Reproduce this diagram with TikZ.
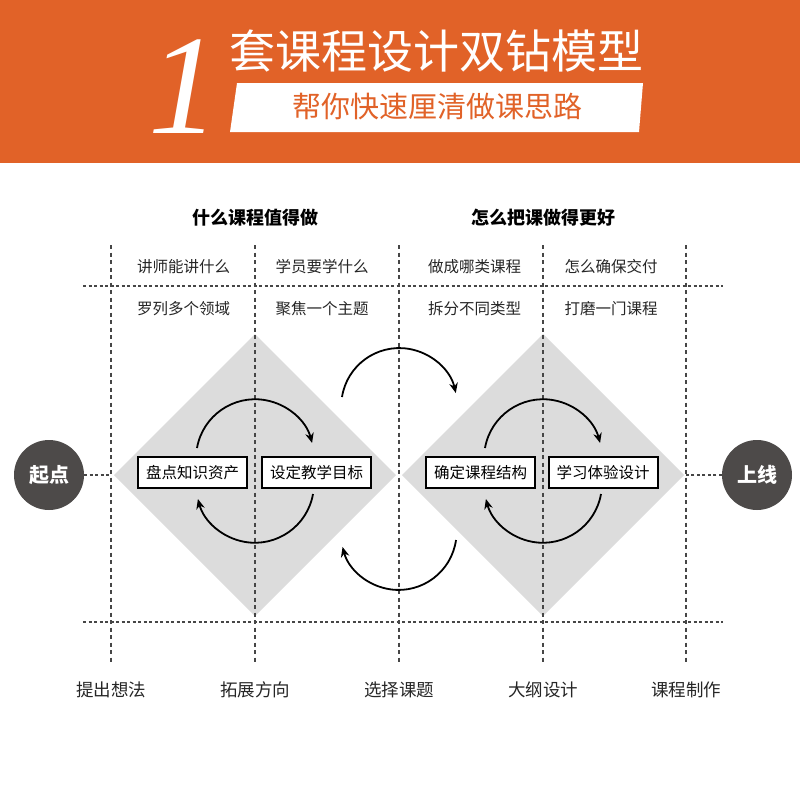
\documentclass[tikz,border=0pt]{standalone}
\usepackage{fontspec}
\setmainfont{Noto Sans CJK SC}
\newfontfamily\numfont{Liberation Serif}
\usetikzlibrary{arrows.meta, positioning, calc}
\definecolor{headorange}{RGB}{225, 98, 40}
\definecolor{diagray}{RGB}{220, 220, 220}
\definecolor{dotgray}{RGB}{70, 70, 70}
\definecolor{pointgray}{RGB}{77, 74, 73}

\begin{document}
\begin{tikzpicture}[x=1pt, y=-1pt,
  vline/.style={dotgray, line width=1.1pt, dash pattern=on 4pt off 3.5pt},
  hline/.style={dotgray, line width=1.1pt, dash pattern=on 3pt off 2.5pt},
  stepbox/.style={draw, line width=2pt, fill=white, minimum width=109pt, minimum height=31pt, inner sep=0pt, font=\fontsize{15.5}{16}\selectfont},
  cell/.style={font=\fontsize{15.5}{16}\selectfont, text=black!85},
  phase/.style={font=\fontsize{17.5}{18}\selectfont, text=black!85},
  colhead/.style={font=\fontsize{18}{19}\selectfont\bfseries},
  endpoint/.style={circle, fill=pointgray, minimum size=70pt, inner sep=0pt, text=white, font=\fontsize{20}{20}\selectfont\bfseries},
  cyc/.style={-{Stealth[length=10pt, width=8.5pt]}, line width=1.8pt}
]
  \useasboundingbox (0,0) rectangle (800,800);
  \fill[white] (0,0) rectangle (800,800);

  % header band
  \fill[headorange] (0,0) rectangle (800,163);
  \node[text=white, anchor=base, inner sep=0pt, font=\numfont\itshape\fontsize{142}{142}\selectfont] (one) at (184,133) {1};
  \node[text=white, font=\fontsize{46}{46}\selectfont] (title) at (436.5,51) {套课程设计双钻模型};
  \fill[white] (237,83) -- (643,83) -- (639,132) -- (230,132) -- cycle;
  \node[text=headorange, font=\fontsize{29}{29}\selectfont] (subtitle) at (437,107) {帮你快速厘清做课思路};

  % two diamonds
  \fill[diagray] (114,475) -- (255,334) -- (396,475) -- (255,616) -- cycle;
  \fill[diagray] (402,475) -- (543,334) -- (684,475) -- (543,616) -- cycle;

  % grid
  \foreach \x in {111,255,399,543,686}
    \draw[vline] (\x,245) -- (\x,663);
  \draw[hline] (83,286) -- (723,286);
  \draw[hline] (83,622) -- (723,622);

  \node[colhead] (worth) at (255,218) {什么课程值得做};
  \node[colhead] (better) at (543,218) {怎么把课做得更好};

  \node[cell] (teach) at (183.5,267) {讲师能讲什么};
  \node[cell] (learn) at (322,267) {学员要学什么};
  \node[cell] (kind) at (474.5,267) {做成哪类课程};
  \node[cell] (deliver) at (611,267) {怎么确保交付};
  \node[cell] (list) at (183.5,309) {罗列多个领域};
  \node[cell] (focus) at (322,309) {聚焦一个主题};
  \node[cell] (split) at (474.5,309) {拆分不同类型};
  \node[cell] (polish) at (611,309) {打磨一门课程};

  % start and end
  \node[endpoint] (begin) at (49,475) {起点};
  \node[endpoint] (online) at (757,475) {上线};
  \coordinate (lmeet) at (111,475);
  \coordinate (rmeet) at (686,475);
  \draw[hline] (begin) -- (lmeet);
  \draw[hline] (online) -- (rmeet);

  \node[stepbox] (assets) at (192.5,472.5) {盘点知识资产};
  \node[stepbox] (goal) at (316.5,472.5) {设定教学目标};
  \node[stepbox] (struct) at (480.5,472.5) {确定课程结构};
  \node[stepbox] (design) at (603,472.5) {学习体验设计};

  \draw[cyc] ([xshift=4.5pt, yshift=8pt]assets.north) arc[start angle=170, end angle=15, radius=59pt];
  \draw[cyc] ([xshift=-3.5pt, yshift=-5pt]goal.south) arc[start angle=-10, end angle=-165, radius=59pt];
  \draw[cyc] ([xshift=4.5pt, yshift=8pt]struct.north) arc[start angle=170, end angle=15, radius=59pt];
  \draw[cyc] ([xshift=-2pt, yshift=-5pt]design.south) arc[start angle=-10, end angle=-165, radius=59pt];

  \coordinate (swingup) at (342,397);
  \coordinate (swingdown) at (456,540);
  \draw[cyc] (swingup) arc[start angle=171, end angle=13, radius=58pt];
  \draw[cyc] (swingdown) arc[start angle=-8, end angle=-165, radius=58pt];

  % stages
  \node[phase] (idea) at (111,690) {提出想法};
  \node[phase] (expand) at (255,690) {拓展方向};
  \node[phase] (topic) at (399,690) {选择课题};
  \node[phase] (outline) at (543,690) {大纲设计};
  \node[phase] (make) at (686,690) {课程制作};
\end{tikzpicture}
\end{document}
